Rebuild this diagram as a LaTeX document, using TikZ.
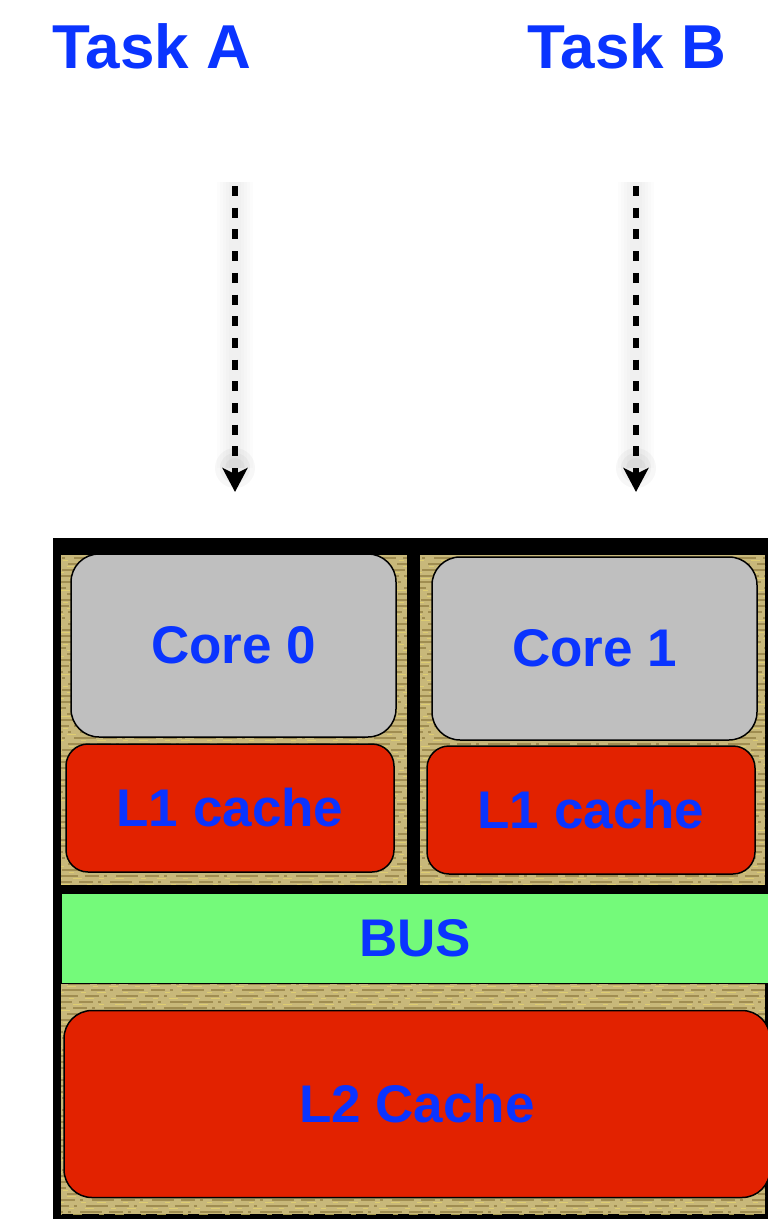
\documentclass[tikz,border=0pt]{standalone}
\usepackage{fontspec}
\setmainfont{Liberation Sans}
\usetikzlibrary{arrows.meta}

\definecolor{taskblue}{RGB}{10,52,255}
\definecolor{cachered}{RGB}{226,34,0}
\definecolor{coregray}{RGB}{191,191,191}
\definecolor{busgreen}{RGB}{116,250,122}
\definecolor{dietan}{RGB}{200,184,122}
\definecolor{dieline}{RGB}{128,106,48}
\definecolor{dielight}{RGB}{232,214,110}

\begin{document}
\begin{tikzpicture}[x=1pt, y=-1pt,
    lbl/.style={text=taskblue, font=\fontsize{53}{60}\selectfont\bfseries},
    unit/.style={draw=black, line width=1.5pt, rounded corners=28pt, inner sep=0pt, lbl},
    core/.style={unit, fill=coregray, minimum width=325pt, minimum height=183pt},
    lone/.style={unit, fill=cachered, rounded corners=22pt, minimum width=328pt, minimum height=128pt},
    task/.style={text=taskblue, font=\fontsize{62}{70}\selectfont\bfseries, inner sep=0pt},
    flow/.style={line width=5.5pt, dash pattern=on 10pt off 11.7pt, -{Stealth[length=24pt,width=25pt,inset=6pt]}}]
  \useasboundingbox (0,0) rectangle (768,1219);
  \clip (0,0) rectangle (768,1219);

  % tasks
  \node[task, anchor=base] (taskA) at (152,68) {Task A};
  \node[task, anchor=base] (taskB) at (627,68) {Task B};

  \coordinate (a0) at (235,186);
  \coordinate (a1) at (235,492);
  \coordinate (b0) at (636,186);
  \coordinate (b1) at (636,492);

  % soft glow behind the arrows
  \foreach \s/\e in {a0/a1, b0/b1} {
    \foreach \w in {36,30,24,18,12}
      \draw[line width=\w pt, opacity=0.012] ([yshift=4pt]\s) -- ([yshift=24pt]\e);
    \foreach \r in {20,15,10}
      \fill[opacity=0.03] ([yshift=24pt]\e) circle (\r);
  }
  \draw[flow] (a0) -- (a1);
  \draw[flow] (b0) -- (b1);

  % chip
  \fill[black] (53,538) rectangle (790,1240);
  \fill[dietan] (61,555) rectangle (765,1214);
  \foreach \y in {558,564,...,1212} {
    \draw[dieline, opacity=0.55, line width=1.6pt,
          dash pattern=on 14pt off 5pt on 3pt off 9pt on 22pt off 7pt, dash phase=\y]
      (61,\y) -- (765,\y);
    \draw[dielight, opacity=0.7, line width=1.2pt,
          dash pattern=on 9pt off 17pt on 5pt off 11pt, dash phase=2*\y]
      (61,\y+2.5) -- (765,\y+2.5);
  }
  \fill[black] (407,555) rectangle (420,885);
  \fill[black] (61,885) rectangle (765,893);

  \node[core] (core0) at (233.5,645.5) {Core 0};
  \node[lone] (lone0) at (230,808) {L1 cache};
  \node[core] (core1) at (594.5,648.5) {Core 1};
  \node[lone] (lone1) at (591,810) {L1 cache};

  \node[lbl, fill=busgreen, draw=black, line width=1pt, inner sep=0pt,
        minimum width=708pt, minimum height=90pt] (bus) at (415,938) {BUS};
  \node[unit, fill=cachered, minimum width=706pt, minimum height=187pt] (ltwo) at (417,1104) {L2 Cache};
\end{tikzpicture}
\end{document}
